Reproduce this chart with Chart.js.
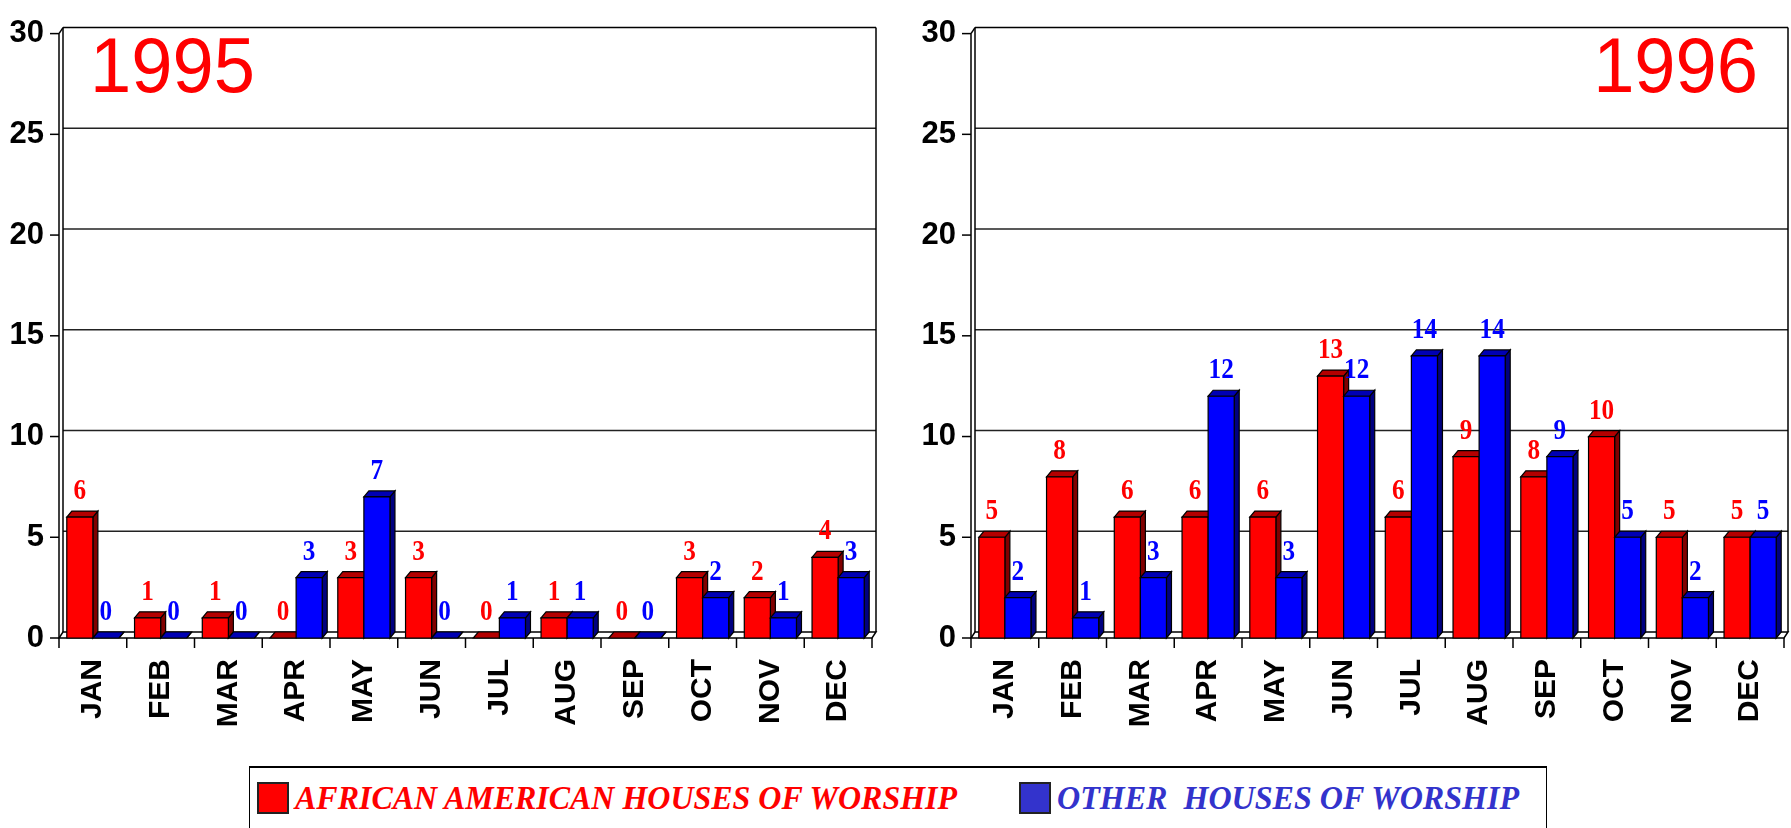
<!DOCTYPE html>
<html>
<head>
<meta charset="utf-8">
<script src="https://cdn.jsdelivr.net/npm/chart.js@4/dist/chart.umd.min.js"></script>
<style>
  body { margin: 0; background: #fff; width: 1791px; height: 828px; overflow: hidden; position: relative; }
  canvas { position: absolute; top: 0; }
  #c95 { left: 0; }
  #c96 { left: 900px; }
  #legend { position: absolute; left: 249px; top: 766px; width: 1296px; height: 90px;
            border: 1px solid #000; border-top: 2px solid #000; }
  .sw { position: absolute; top: 14px; width: 28px; height: 28px; border: 2px solid #222; }
  .lt { position: absolute; top: 14px; font: italic bold 33px 'Liberation Serif', 'Times New Roman', serif;
        line-height: 33px; white-space: pre; transform-origin: 0 0; }
</style>
</head>
<body>
<canvas id="c95" width="900" height="760"></canvas>
<canvas id="c96" width="940" height="760"></canvas>
<div id="legend">
  <div class="sw" style="left:7px;background:#ff0000"></div>
  <div class="lt" id="lt1" style="left:45px;color:#ff0000">AFRICAN AMERICAN HOUSES OF WORSHIP</div>
  <div class="sw" style="left:769px;background:#3333cc"></div>
  <div class="lt" id="lt2" style="left:807px;color:#3333cc">OTHER  HOUSES OF WORSHIP</div>
</div>
<script>
const months = ['JAN','FEB','MAR','APR','MAY','JUN','JUL','AUG','SEP','OCT','NOV','DEC'];
const african1995 = [6, 1, 1, 0, 3, 3, 0, 1, 0, 3, 2, 4];
const other1995   = [0, 0, 0, 3, 7, 0, 1, 1, 0, 2, 1, 3];
const african1996 = [5, 8, 6, 6, 6, 13, 6, 9, 8, 10, 5, 5];
const other1996   = [2, 1, 3, 12, 3, 12, 14, 14, 9, 5, 2, 5];
const seriesNames = ['AFRICAN AMERICAN HOUSES OF WORSHIP', 'OTHER  HOUSES OF WORSHIP'];

const narrow = '"Liberation Sans Narrow", "Arial Narrow", "Liberation Sans", Arial, sans-serif';

// 3d depth of bars and of back wall
const DX = 5, DY = 6, WX = 4, WY = 6;
const faces = [
  { front: '#ff0000', top: '#b40000', side: '#800000', text: '#ff0000' },
  { front: '#0000ff', top: '#0000b4', side: '#000080', text: '#0000ff' }
];

function poly(ctx, pts, fill) {
  ctx.beginPath();
  ctx.moveTo(pts[0][0], pts[0][1]);
  for (let i = 1; i < pts.length; i++) ctx.lineTo(pts[i][0], pts[i][1]);
  ctx.closePath();
  if (fill) { ctx.fillStyle = fill; ctx.fill(); }
  ctx.stroke();
}
function line(ctx, x1, y1, x2, y2) {
  ctx.beginPath(); ctx.moveTo(x1, y1); ctx.lineTo(x2, y2); ctx.stroke();
}
// text squeezed horizontally like the original
function squeezed(ctx, txt, x, y, sx) {
  ctx.save();
  ctx.translate(x, y);
  ctx.scale(sx, 1);
  ctx.fillText(txt, 0, 0);
  ctx.restore();
}

const box3d = {
  id: 'box3d',
  beforeDatasetsDraw(chart, args, opts) {
    const { ctx, chartArea: a, scales: { x, y } } = chart;
    const y0 = y.getPixelForValue(0), yT = y.getPixelForValue(30);
    ctx.save();
    ctx.strokeStyle = '#222'; ctx.lineWidth = 1.5;
    // gridlines on the back wall
    y.ticks.forEach(t => {
      if (t.value === 0 || t.value === 30) return;
      const p = y.getPixelForValue(t.value) - WY;
      line(ctx, a.left + WX, p, a.right + WX, p);
    });
    ctx.strokeStyle = '#000';
    // wall outline
    line(ctx, a.left + WX, yT - WY, a.right + WX, yT - WY);
    line(ctx, a.right + WX, yT - WY, a.right + WX, y0 - WY);
    line(ctx, a.left + WX, yT - WY, a.left + WX, y0 - WY);
    line(ctx, a.left, yT, a.left + WX, yT - WY);
    line(ctx, a.left, yT, a.left, y0);
    // floor
    poly(ctx, [[a.left, y0], [a.right, y0], [a.right + WX, y0 - WY], [a.left + WX, y0 - WY]], '#fff');
    // y tick marks
    y.ticks.forEach(t => {
      const p = y.getPixelForValue(t.value);
      line(ctx, a.left - 9, p, a.left, p);
    });
    // x tick marks at category borders
    for (let i = 0; i <= months.length; i++) {
      const p = a.left + (a.right - a.left) * i / months.length;
      line(ctx, p, y0, p, y0 + 10);
    }
    // year
    ctx.fillStyle = '#ff0000';
    ctx.font = '78px "Liberation Sans", Arial, sans-serif';
    ctx.textAlign = opts.align;
    ctx.textBaseline = 'alphabetic';
    squeezed(ctx, opts.year, opts.align === 'left' ? a.left + 31 : a.right - 26, 92, 0.95);
    ctx.restore();
  },
  beforeDatasetDraw() { return false; },
  afterDatasetsDraw(chart) {
    const { ctx } = chart;
    ctx.save();
    ctx.strokeStyle = '#000'; ctx.lineWidth = 1.2;
    for (let i = 0; i < months.length; i++) {
      chart.data.datasets.forEach((ds, d) => {
        const el = chart.getDatasetMeta(d).data[i];
        const { x, y, width, base } = el.getProps(['x', 'y', 'width', 'base'], true);
        const l = x - width / 2, r = x + width / 2;
        const f = faces[d];
        poly(ctx, [[r, y], [r + DX, y - DY], [r + DX, base - DY], [r, base]], f.side);
        poly(ctx, [[l, y], [l + DX, y - DY], [r + DX, y - DY], [r, y]], f.top);
        if (base - y > 0.5) poly(ctx, [[l, y], [r, y], [r, base], [l, base]], f.front);
      });
    }
    // value labels
    ctx.font = 'bold 30px "Liberation Serif", "Times New Roman", serif';
    ctx.textAlign = 'center';
    ctx.textBaseline = 'alphabetic';
    chart.data.datasets.forEach((ds, d) => {
      ctx.fillStyle = faces[d].text;
      chart.getDatasetMeta(d).data.forEach((el, i) => {
        squeezed(ctx, String(ds.data[i]), el.x, el.y - 18, 0.84);
      });
    });
    ctx.restore();
  }
};

function makeChart(id, african, other, year, align, axisWidth, padRight) {
  return new Chart(document.getElementById(id), {
    type: 'bar',
    data: {
      labels: months,
      datasets: [
        { label: seriesNames[0], data: african, backgroundColor: faces[0].front },
        { label: seriesNames[1], data: other, backgroundColor: faces[1].front }
      ]
    },
    options: {
      responsive: false,
      animation: false,
      layout: { padding: { top: 22, right: padRight, left: 0, bottom: 0 } },
      categoryPercentage: 0.77,
      barPercentage: 1,
      plugins: {
        legend: { display: false },
        tooltip: { enabled: false },
        box3d: { year: year, align: align }
      },
      scales: {
        x: {
          grid: { display: false, drawTicks: false },
          border: { display: false },
          ticks: {
            color: '#000', minRotation: 90, maxRotation: 90, padding: 21,
            font: { family: narrow, size: 30, weight: 'bold' }
          },
          afterFit(s) { s.height = 760 - 638; }
        },
        y: {
          min: 0, max: 30,
          grid: { display: false, drawTicks: false },
          border: { display: false },
          ticks: {
            stepSize: 5, color: '#000', padding: 15,
            font: { family: narrow, size: 31, weight: 'bold' }
          },
          afterFit(s) { s.width = axisWidth; }
        }
      }
    },
    plugins: [box3d]
  });
}

makeChart('c95', african1995, other1995, '1995', 'left', 59, 28);
makeChart('c96', african1996, other1996, '1996', 'right', 71, 56);

// squeeze the legend text to the reference widths
[['lt1', 662], ['lt2', 462]].forEach(([id, w]) => {
  const el = document.getElementById(id);
  el.style.transform = 'scaleX(' + (w / el.getBoundingClientRect().width) + ')';
});
</script>
</body>
</html>
